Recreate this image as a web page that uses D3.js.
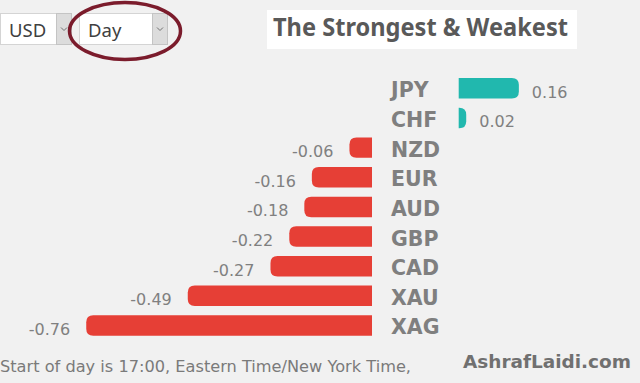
<!DOCTYPE html>
<html><head><meta charset="utf-8">
<script src="https://cdn.jsdelivr.net/npm/d3@7"></script>
<style>html,body{margin:0;padding:0;background:#f1f1f1;}svg{display:block;}</style>
</head><body>
<script>
const categories = ["JPY","CHF","NZD","EUR","AUD","GBP","CAD","XAU","XAG"];
const values = [0.16,0.02,-0.06,-0.16,-0.18,-0.22,-0.27,-0.49,-0.76];
const labels = ["0.16","0.02","-0.06","-0.16","-0.18","-0.22","-0.27","-0.49","-0.76"];
const title = "The Strongest & Weakest";
const footnote = "Start of day is 17:00, Eastern Time/New York Time,";
const brand = "AshrafLaidi.com";
const currencyOption = "USD";
const periodOption = "Day";

const W = 640, H = 383;
const svg = d3.select("body").append("svg").attr("width", W).attr("height", H);
svg.append("rect").attr("width", W).attr("height", H).attr("fill", "#f1f1f1");

const y = d3.scaleBand().domain(categories).range([73.5, 340.3]).paddingInner(0.31).paddingOuter(0.155);
const xNeg = d3.scaleLinear().domain([-1, 0]).range([372 - 376, 372]);
const xPos = d3.scaleLinear().domain([0, 1]).range([458.7, 458.7 + 376]);

function barPath(v, cy, h) {
  const top = cy - h / 2, bot = cy + h / 2;
  if (v >= 0) {
    const x0 = xPos(0), x1 = xPos(v), w = x1 - x0;
    const r = Math.min(7, w);
    return `M${x0},${top}L${x1 - r},${top}Q${x1},${top} ${x1},${top + r}L${x1},${bot - r}Q${x1},${bot} ${x1 - r},${bot}L${x0},${bot}Z`;
  } else {
    const x0 = xNeg(0), x1 = xNeg(v), w = x0 - x1;
    const r = Math.min(7, w);
    return `M${x0},${top}L${x1 + r},${top}Q${x1},${top} ${x1},${top + r}L${x1},${bot - r}Q${x1},${bot} ${x1 + r},${bot}L${x0},${bot}Z`;
  }
}

const rows = svg.append("g").selectAll("g").data(categories).join("g");
rows.append("path")
  .attr("d", (c, i) => barPath(values[i], y(c) + y.bandwidth() / 2, y.bandwidth()))
  .attr("fill", (c, i) => values[i] >= 0 ? "#21b8ae" : "#e63f36");
rows.append("text")
  .attr("x", 391).attr("y", c => y(c) + y.bandwidth() / 2 + 9)
  .attr("font-family", "DejaVu Sans").attr("font-weight", "bold").attr("font-size", 20.5)
  .attr("fill", "#7f7f7f").text(c => c);
rows.append("text")
  .attr("x", (c, i) => values[i] >= 0 ? xPos(values[i]) + 13 : xNeg(values[i]) - 16)
  .attr("y", c => y(c) + y.bandwidth() / 2 + 9.5)
  .attr("text-anchor", (c, i) => values[i] >= 0 ? "start" : "end")
  .attr("font-family", "DejaVu Sans").attr("font-size", 16)
  .attr("fill", "#808080").text((c, i) => labels[i]);

// title
svg.append("rect").attr("x", 267).attr("y", 10).attr("width", 310).attr("height", 39).attr("fill", "#ffffff");
svg.append("text").attr("x", 273).attr("y", 36).attr("textLength", 295).attr("lengthAdjust", "spacingAndGlyphs")
  .attr("font-family", "Noto Sans").attr("font-weight", "bold").attr("font-size", 24.5)
  .attr("fill", "#595959").text(title);

// dropdowns
function dropdown(x, w, bx, label) {
  const g = svg.append("g");
  g.append("rect").attr("x", x + 0.5).attr("y", 13.5).attr("width", w).attr("height", 31)
    .attr("fill", "#ffffff").attr("stroke", "#d4d4d4");
  g.append("rect").attr("x", bx + 0.5).attr("y", 13.5).attr("width", 15).attr("height", 31)
    .attr("fill", "#dcdcdc").attr("stroke", "#c4c4c4");
  const cx = bx + 8, cy = 29;
  g.append("path").attr("d", `M${cx - 3},${cy - 1.5}L${cx},${cy + 1.5}L${cx + 3},${cy - 1.5}`)
    .attr("fill", "none").attr("stroke", "#707070").attr("stroke-width", 1);
  g.append("text").attr("x", x + 9).attr("y", 37).attr("font-family", "Noto Sans").attr("font-size", 18.5)
    .attr("fill", "#404040").text(label);
}
dropdown(0, 56, 56, currencyOption);
dropdown(79, 73, 152, periodOption);

svg.append("ellipse").attr("cx", 125).attr("cy", 31).attr("rx", 55.5).attr("ry", 28.5)
  .attr("fill", "none").attr("stroke", "#7b1c2c").attr("stroke-width", 3.5);

// footer
svg.append("text").attr("x", 0).attr("y", 372).attr("textLength", 411).attr("lengthAdjust", "spacingAndGlyphs")
  .attr("font-family", "DejaVu Sans").attr("font-size", 16.5).attr("fill", "#7a7a7a").text(footnote);
svg.append("text").attr("x", 463).attr("y", 368).attr("textLength", 168).attr("lengthAdjust", "spacingAndGlyphs")
  .attr("font-family", "DejaVu Sans").attr("font-weight", "bold").attr("font-size", 18)
  .attr("fill", "#707070").text(brand);
</script>
</body></html>
